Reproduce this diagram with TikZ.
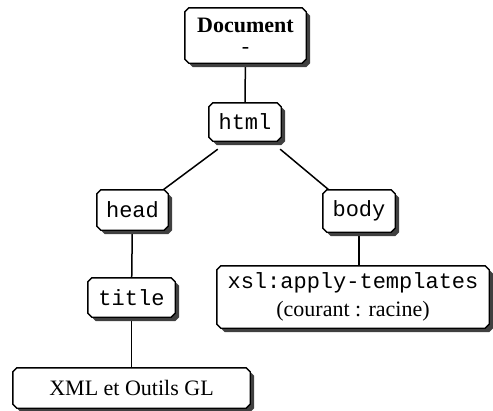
\documentclass[tikz,border=0pt]{standalone}
\usepackage{fontspec}
\setmainfont{Liberation Serif}
\setmonofont{Liberation Mono}
\usetikzlibrary{backgrounds,calc}

\pgfdeclarelayer{boxes}
\pgfsetlayers{background,boxes,main}

% bevelled outline round node #1, moved by (#2,#3)
\newcommand\bevelpath[3]{%
  ([shift={(4+#2,#3)}]#1.north west) -- ([shift={(-4+#2,#3)}]#1.north east)
  -- ([shift={(#2,4+#3)}]#1.north east) -- ([shift={(#2,-4+#3)}]#1.south east)
  -- ([shift={(-4+#2,#3)}]#1.south east) -- ([shift={(4+#2,#3)}]#1.south west)
  -- ([shift={(#2,-4+#3)}]#1.south west) -- ([shift={(#2,4+#3)}]#1.north west)
  -- cycle}

\begin{document}
\begin{tikzpicture}[x=1pt,y=-1pt,
  box/.style={rectangle, inner sep=0pt, align=center,
    font=\fontsize{22}{26}\selectfont},
  link/.style={line width=1.5pt, draw=black},
  shade/.style={fill=black!75},
  frame/.style={draw=black, fill=white, line width=1.4pt, line join=miter}]

\useasboundingbox (0,0) rectangle (493,410);

% tree nodes
\node[box, minimum width=121pt, minimum height=55pt] (doc) at (245.5,35.5)
  {\textbf{Document}\\[-5pt]-};
\node[box, minimum width=72pt, minimum height=38pt] (html) at (245,122) {\texttt{html}};
\node[box, minimum width=71pt, minimum height=40pt] (head) at (132.5,210) {\texttt{head}};
\node[box, minimum width=72pt, minimum height=42pt] (body) at (359,211) {\texttt{body}};
\node[box, minimum width=87pt, minimum height=39pt] (title) at (131.5,297.5) {\texttt{title}};
\node[box, minimum width=272pt, minimum height=62pt] (xsl) at (353,297)
  {\texttt{xsl:apply-templates}\\[2pt](courant : racine)};
\node[box, minimum width=237pt, minimum height=40pt] (xml) at (131.5,388) {XML et Outils GL};

% bevelled frames with their shadows
\begin{pgfonlayer}{boxes}
  \foreach \n in {doc,html,head,body,title,xsl,xml}{
    \fill[shade] \bevelpath{\n}{4}{4};
    \filldraw[frame] \bevelpath{\n}{0}{0};
  }
\end{pgfonlayer}

% connectors
\begin{pgfonlayer}{background}
  \draw[link] (doc) -- (html);
  \draw[link] ($(html.south west)+(9,8)$) -- ($(head.north east)+(-5,0)$);
  \draw[link] ($(html.south east)+(-1,8)$) -- ($(body.north west)+(6,0)$);
  \draw[link] (head) -- (title);
  \draw[link] (title) -- (xml);
  \draw[link] (body.south) -- (body.south |- xsl.north);
\end{pgfonlayer}
\end{tikzpicture}
\end{document}
